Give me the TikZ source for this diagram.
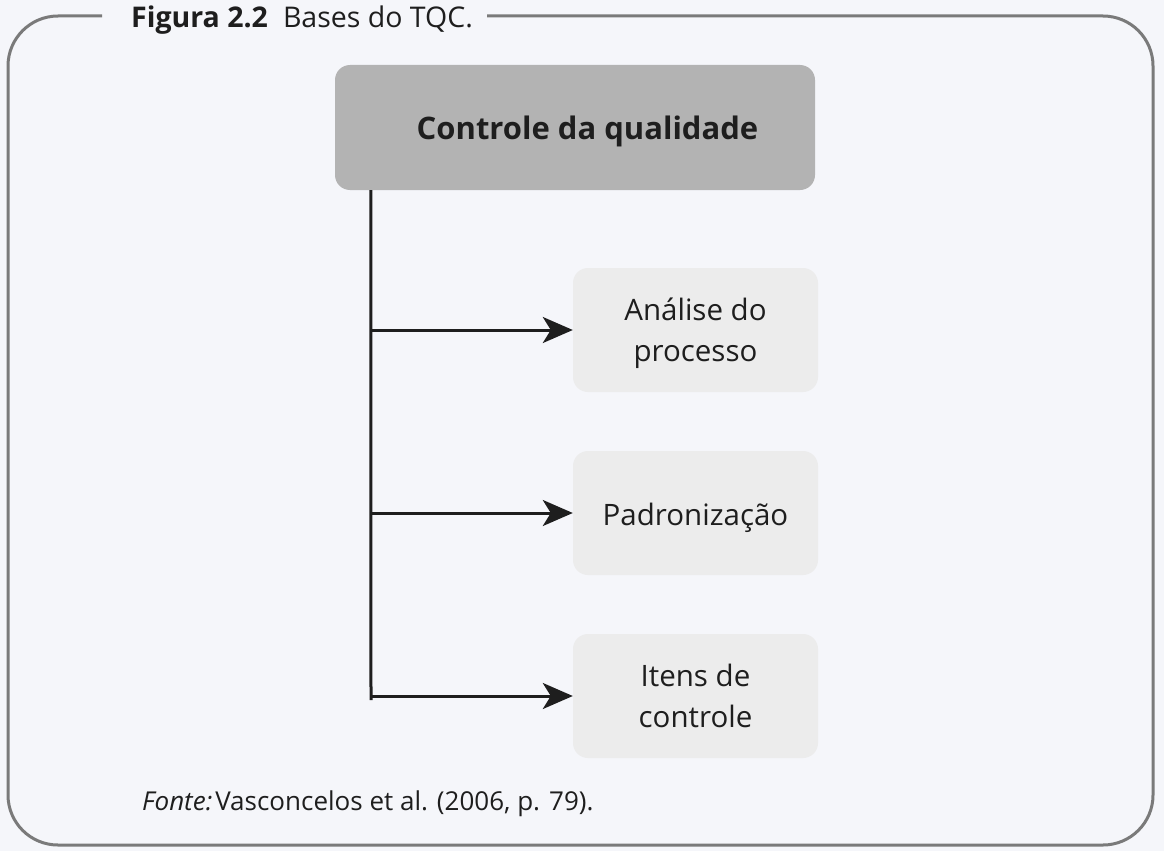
\documentclass[tikz,border=0pt]{standalone}
\usepackage{fontspec}
\setmainfont{Open Sans}
\usetikzlibrary{arrows.meta}
\definecolor{bg}{HTML}{F5F6FA}
\definecolor{framec}{HTML}{7A7A7A}
\definecolor{mainfill}{HTML}{B3B3B3}
\definecolor{subfill}{HTML}{ECECEC}
\definecolor{ink}{HTML}{1E1E1E}
\newcommand{\twolines}[2]{\raisebox{10pt}[0pt][0pt]{\begin{tabular}[t]{@{}c@{}}#1\\#2\end{tabular}}}
\newcommand{\oneline}[2]{\raisebox{#1}[0pt][0pt]{#2}}
\begin{document}
\begin{tikzpicture}[x=1pt,y=-1pt,
  mainbox/.style={fill=mainfill, rounded corners=15pt, minimum width=480pt, minimum height=125pt, inner sep=0pt, font=\fontsize{31}{36}\selectfont\bfseries, text=ink},
  subbox/.style={fill=subfill, rounded corners=15pt, minimum width=245pt, minimum height=124pt, inner sep=0pt, align=center, font=\fontsize{29.5}{41}\selectfont, text=ink},
  conn/.style={draw=ink, line width=3pt},
  arr/.style={conn, -{Stealth[length=30pt,width=26pt,inset=8pt]}},
  caption/.style={anchor=base west, inner sep=0pt, text=ink}]
\fill[bg] (0,0) rectangle (1164,851);
\useasboundingbox (0,0) rectangle (1164,851);
\draw[framec, line width=3pt, rounded corners=50pt] (102,16) -- (8,16) -- (8,845) -- (1153,845) -- (1153,16) -- (487,16);
\node[caption, font=\fontsize{28.5}{30}\selectfont] (title) at (131,28) {\textbf{Figura 2.2}\hspace{15pt}Bases do TQC.};
\node[mainbox] (main) at (575,127.5) {\oneline{-11.5pt}{\hspace*{25pt}Controle da qualidade}};
\node[subbox] (a1) at (695.5,330) {\twolines{Análise do}{processo}};
\node[subbox] (a2) at (695.5,513) {\oneline{-12pt}{Padronização}};
\node[subbox] (a3) at (695.5,696) {\twolines{Itens de}{controle}};
\coordinate (top) at ([xshift=36pt]main.south west);
\coordinate (bot) at (371,700);
\draw[conn] (top) -- (bot);
\draw[arr] (top |- a1.west) -- (a1.west);
\draw[arr] (top |- a2.west) -- (a2.west);
\draw[arr] (top |- a3.west) -- (a3.west);
\node[caption, font=\fontsize{26}{30}\selectfont] (src) at (142,810) {\textit{Fonte:}\hspace{3pt}Vasconcelos et al. (2006, p. 79).};
\end{tikzpicture}
\end{document}
